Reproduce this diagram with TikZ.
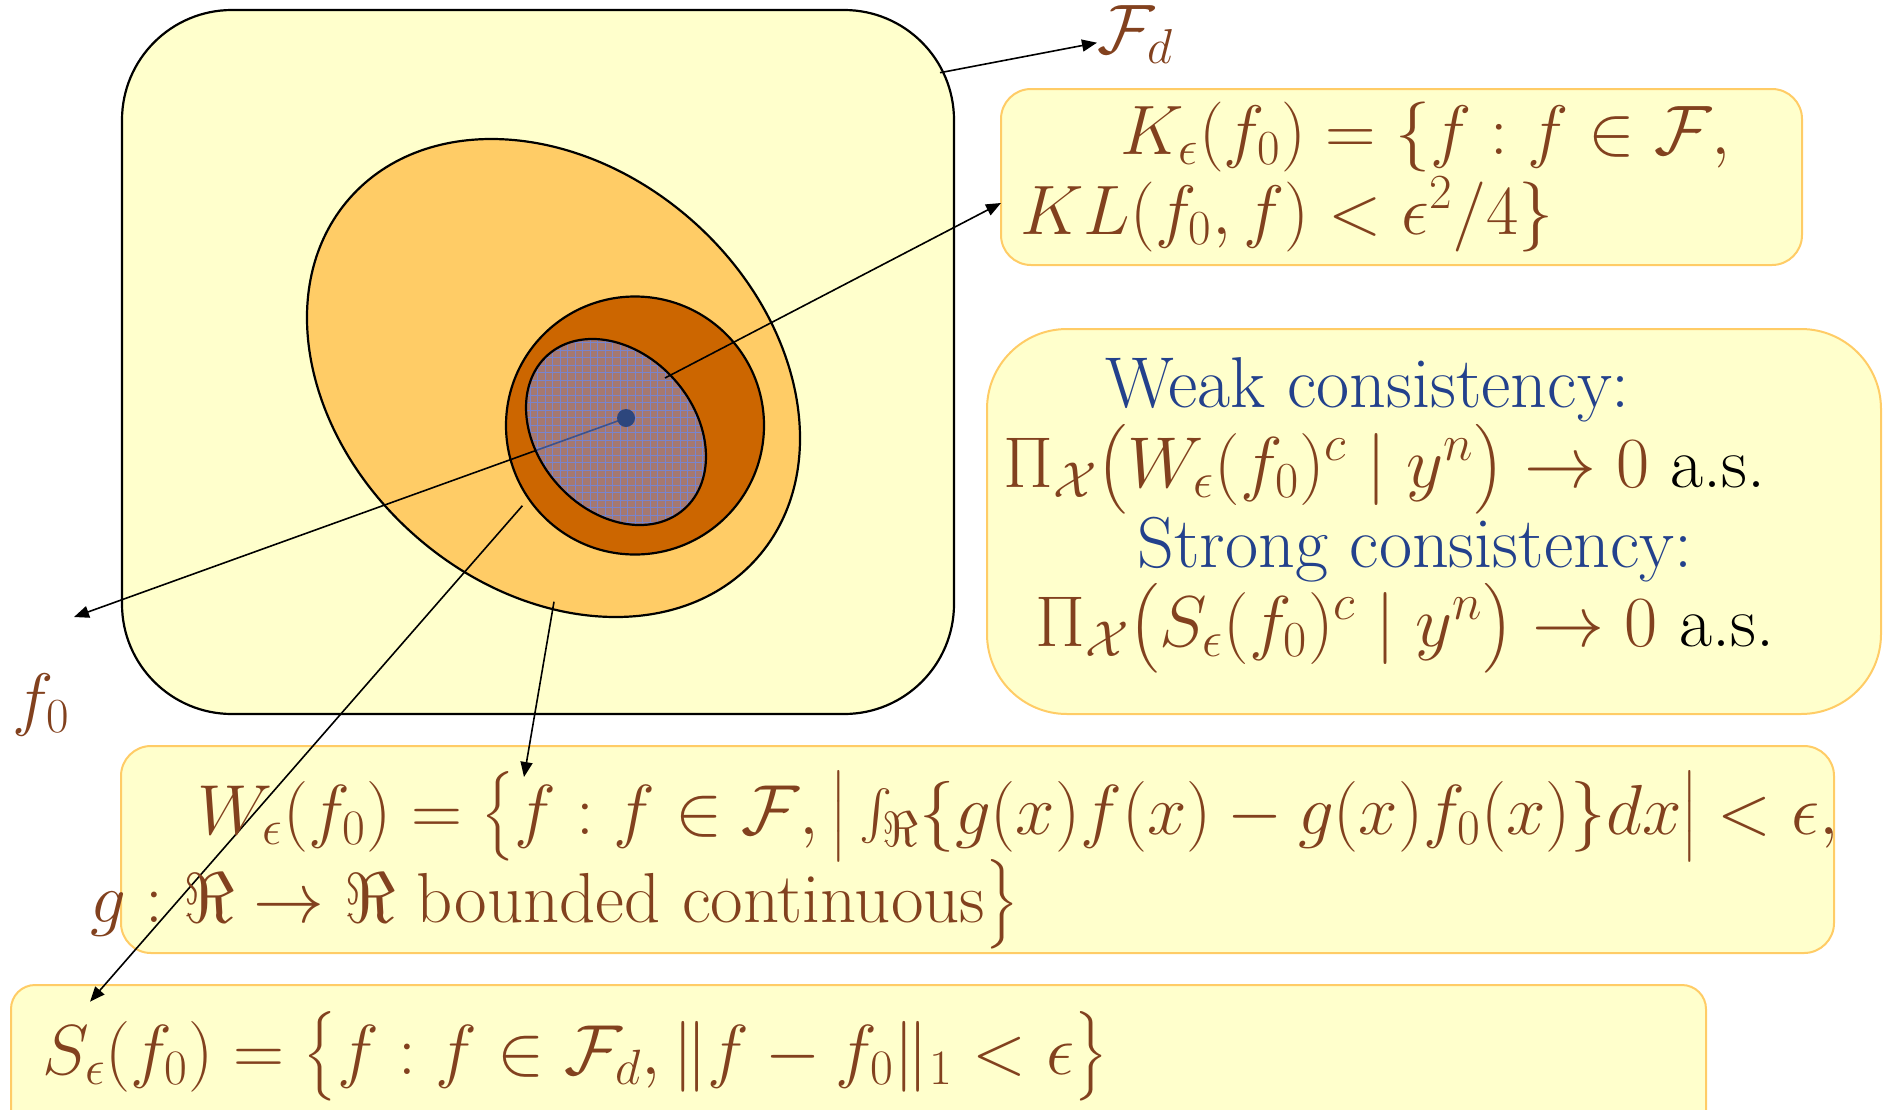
\RequirePackage{fix-cm}
\documentclass[tikz,border=0pt]{standalone}
\usepackage{amsmath}
\usetikzlibrary{arrows.meta}
\definecolor{bgyellow}{RGB}{255,255,204}
\definecolor{lightorange}{RGB}{255,204,102}
\definecolor{darkorange}{RGB}{204,102,0}
\definecolor{txtbrown}{RGB}{130,65,30}
\definecolor{txtblue}{RGB}{35,65,140}
\definecolor{hatchbg}{RGB}{165,120,112}
\definecolor{hatchline}{RGB}{120,132,205}
\definecolor{dotblue}{RGB}{45,70,125}
\begin{document}
\begin{tikzpicture}[x=0.5pt,y=-0.5pt,
  txt/.style={inner sep=0pt, anchor=base west, text=txtbrown, font=\fontsize{35}{42}\selectfont},
  bigtxt/.style={txt, font=\fontsize{36}{43}\selectfont},
  widetxt/.style={txt, font=\fontsize{35.4}{42}\selectfont},
  panel/.style={draw=lightorange, fill=bgyellow, line width=1pt},
  shapeline/.style={draw=black, line width=1.1pt},
  arr/.style={draw=black, line width=0.8pt, -{Triangle[length=7.5pt,width=6pt]}}]
\useasboundingbox (0,0) rectangle (1891,1109);

% boxes
\path[panel, rounded corners=15pt] (1001,89) rectangle (1802,265);
\path[panel, rounded corners=40pt] (987,329) rectangle (1881,714);
\path[panel, rounded corners=15pt] (121,746) rectangle (1834,953);
\path[panel, rounded corners=12pt] (11,985) rectangle (1706,1140);

% big rounded square F_d
\path[shapeline, fill=bgyellow, rounded corners=55pt] (122,10) rectangle (954,714);
% outer ellipse
\path[shapeline, fill=lightorange, rotate around={-41.5:(553.5,378)}] (553.5,378) ellipse [x radius=271.8, y radius=209.8];
% circle
\path[shapeline, fill=darkorange] (635,425.5) circle [radius=129];

% coordinates
\coordinate (fdstart) at (940,72.7);
\coordinate (fdtip) at (1097,42.7);
\coordinate (kstart) at (665,378);
\coordinate (ktip) at (1001,203);
\coordinate (ctr) at (626,418);
\coordinate (f0tip) at (74,617);
\coordinate (sstart) at (522.4,505.7);
\coordinate (stip) at (90,1001.7);
\coordinate (wstart) at (554,601.7);
\coordinate (wtip) at (524,777);

% arrow to f0 (under the hatched ellipse)
\draw[arr] (ctr) -- (f0tip);

% inner hatched ellipse
\begin{scope}
\clip[rotate around={-48.6:(616,432)}] (616,432) ellipse [x radius=102.9, y radius=78.5];
\fill[hatchbg] (500,320) rectangle (730,545);
\foreach \i in {0,...,31} {
  \draw[hatchline, line width=0.45pt] (500+7.5*\i,320) -- (500+7.5*\i,545);
  \draw[hatchline, line width=0.45pt] (500,320+7.5*\i) -- (730,320+7.5*\i);
}
\draw[line width=0.8pt, draw=dotblue!80!hatchline] (ctr) -- (f0tip);
\end{scope}
\path[shapeline, rotate around={-48.6:(616,432)}] (616,432) ellipse [x radius=102.9, y radius=78.5];

% center point f0
\node[circle, fill=dotblue, inner sep=0pt, minimum size=9pt] (f0pt) at (ctr) {};

% arrows
\draw[arr] (fdstart) -- (fdtip);
\draw[arr] (kstart) -- (ktip);
\draw[arr] (sstart) -- (stip);
\draw[arr] (wstart) -- (wtip);

% labels
\node[txt] (Fd) at (1097,53) {$\mathcal{F}_d$};
\node[txt] (f0) at (12,722) {$f_0$};
\node[txt] (K1) at (1120,154) {$K_\epsilon(f_0)=\{f:f\in\mathcal{F},$};
\node[txt] (K2) at (1020,234) {$KL(f_0,f)<\epsilon^2/4\}$};
\node[bigtxt, text=txtblue] (weak) at (1105,407) {Weak consistency:};
\node[bigtxt] (pi1) at (1003,487) {$\Pi_{\mathcal{X}}\big(W_\epsilon(f_0)^c\mid y^n\big)\to 0$~\textcolor{black}{a.s.}};
\node[bigtxt, text=txtblue] (strong) at (1137,567) {Strong consistency:};
\node[bigtxt] (pi2) at (1035,646) {$\Pi_{\mathcal{X}}\big(S_\epsilon(f_0)^c\mid y^n\big)\to 0$~\textcolor{black}{a.s.}};
\node[widetxt] (W1) at (197,834) {$W_\epsilon(f_0)=\big\{f:f\in\mathcal{F},\big|\int_{\Re}\{g(x)f(x)-g(x)f_0(x)\}dx\big|<\epsilon,$};
\node[widetxt] (W2) at (90,922) {$g:\Re\to\Re$ bounded continuous$\big\}$};
\node[widetxt] (S1) at (42,1074) {$S_\epsilon(f_0)=\big\{f:f\in\mathcal{F}_d,\|f-f_0\|_1<\epsilon\big\}$};
\end{tikzpicture}
\end{document}
